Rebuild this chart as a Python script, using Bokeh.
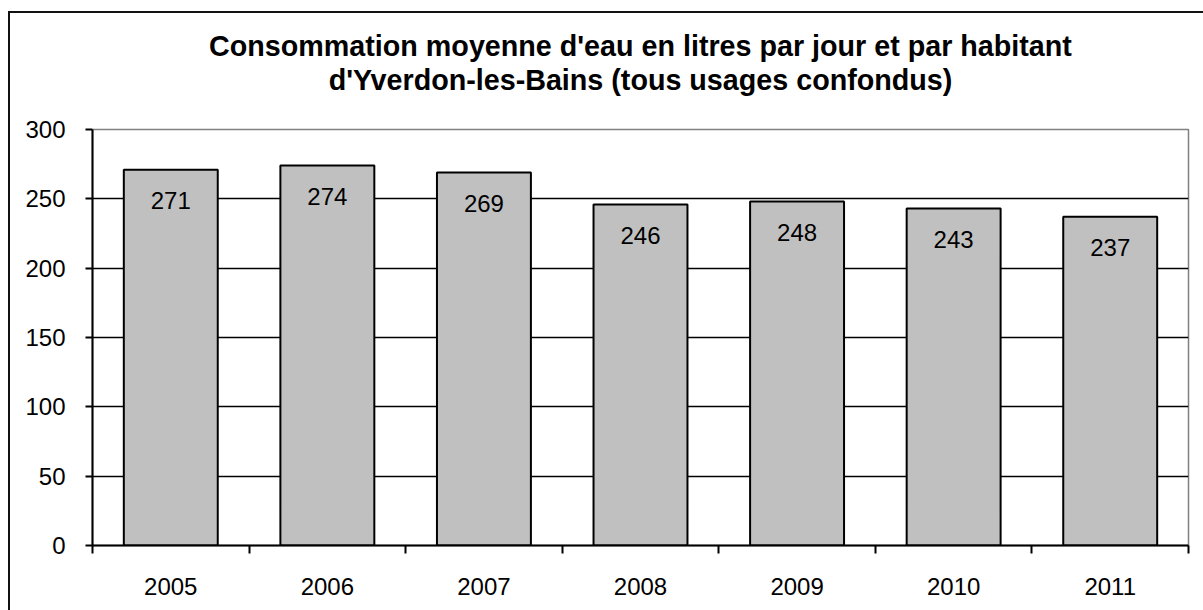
from bokeh.plotting import figure
from bokeh.models import (Range1d, FixedTicker, ColumnDataSource, InlineStyleSheet,
                          LinearAxis, Grid, CustomJSTickFormatter, Title)
from bokeh.core.properties import value
from bokeh.embed import file_html
from bokeh.resources import INLINE

# ---- data ----
years = ["2005", "2006", "2007", "2008", "2009", "2010", "2011"]
consumption = [271, 274, 269, 246, 248, 243, 237]
y_ticks = [0, 50, 100, 150, 200, 250, 300]
grid_ticks = [50, 100, 150, 200, 250]
title_lines = ["Consommation moyenne d'eau en litres par jour et par habitant",
               "d'Yverdon-les-Bains (tous usages confondus)"]

FONT = "Liberation Sans"
n = len(years)
xpos = [i + 0.5 for i in range(n)]
boundaries = list(range(n + 1))
src = ColumnDataSource(dict(x=xpos, v=consumption, lab=[str(v) for v in consumption]))

p = figure(width=1195, height=602, x_range=Range1d(0, n), y_range=Range1d(0, max(y_ticks)),
           title=None, output_backend="svg", toolbar_location=None,
           x_axis_type=None, y_axis_type=None,
           min_border_left=92, min_border_right=7, min_border_top=129, min_border_bottom=57)

p.background_fill_color = "white"
p.border_fill_color = "white"
p.outline_line_color = "#808080"
p.outline_line_width = 1.5

# blank spacer panel between the plot area and the title
spacer = LinearAxis(ticker=FixedTicker(ticks=[0]),
                    formatter=CustomJSTickFormatter(code="return '';"),
                    major_tick_out=34, major_tick_in=0,
                    major_tick_line_color="white", major_tick_line_width=1,
                    axis_line_color=None, minor_tick_line_color=None,
                    major_label_standoff=0)
p.add_layout(spacer, "above")

# title: two centred lines (second line closest to the plot)
for line in reversed(title_lines):
    p.add_layout(Title(text=line, align="center", text_font=FONT, text_font_size="28.7px",
                       text_font_style="bold", text_color="black", standoff=0), "above")

# grid
p.add_layout(Grid(dimension=1, ticker=FixedTicker(ticks=grid_ticks),
                  grid_line_color="black", grid_line_width=1.5))

# y axis
yaxis = LinearAxis(ticker=FixedTicker(ticks=y_ticks))
yaxis.axis_line_width = 2
yaxis.axis_line_color = "black"
yaxis.major_tick_out = 7
yaxis.major_tick_in = 0
yaxis.major_tick_line_width = 2
yaxis.major_tick_line_color = "black"
yaxis.minor_tick_line_color = None
yaxis.major_label_standoff = 20
yaxis.major_label_text_font = FONT
yaxis.major_label_text_font_size = "24px"
yaxis.major_label_text_color = "black"
p.add_layout(yaxis, "left")

# x axis: labels at category centres, tick marks at category boundaries
xaxis = LinearAxis(ticker=FixedTicker(ticks=xpos, minor_ticks=boundaries))
xaxis.formatter = CustomJSTickFormatter(args=dict(labels=years),
                                        code="return labels[Math.floor(tick)];")
xaxis.axis_line_width = 2
xaxis.axis_line_color = "black"
xaxis.major_tick_line_color = None
xaxis.major_tick_out = 8
xaxis.major_tick_in = 0
xaxis.minor_tick_out = 8
xaxis.minor_tick_in = 0
xaxis.minor_tick_line_width = 2
xaxis.minor_tick_line_color = "black"
xaxis.major_label_standoff = 24
xaxis.major_label_text_font = FONT
xaxis.major_label_text_font_size = "24px"
xaxis.major_label_text_color = "black"
p.add_layout(xaxis, "below")

# bars
p.vbar(x="x", top="v", bottom=0, width=0.6, source=src,
       fill_color="#C0C0C0", line_color="black", line_width=2)

# value labels
p.text(x="x", y="v", text="lab", source=src, text_align="center", text_baseline="middle",
       y_offset=31, text_font=value(FONT), text_font_size="24px", text_color="black")

# outer chart frame (left/top edges visible in the reference)
p.stylesheets = [InlineStyleSheet(css="""
:host::after {
  content: '';
  position: fixed;
  left: 8px; top: 11px;
  width: 1195px; height: 599px;
  border-left: 2px solid #111;
  border-top: 2px solid #111;
  box-sizing: border-box;
  pointer-events: none;
  z-index: 5;
}
""")]

open("out.html", "w").write(file_html(p, INLINE))
